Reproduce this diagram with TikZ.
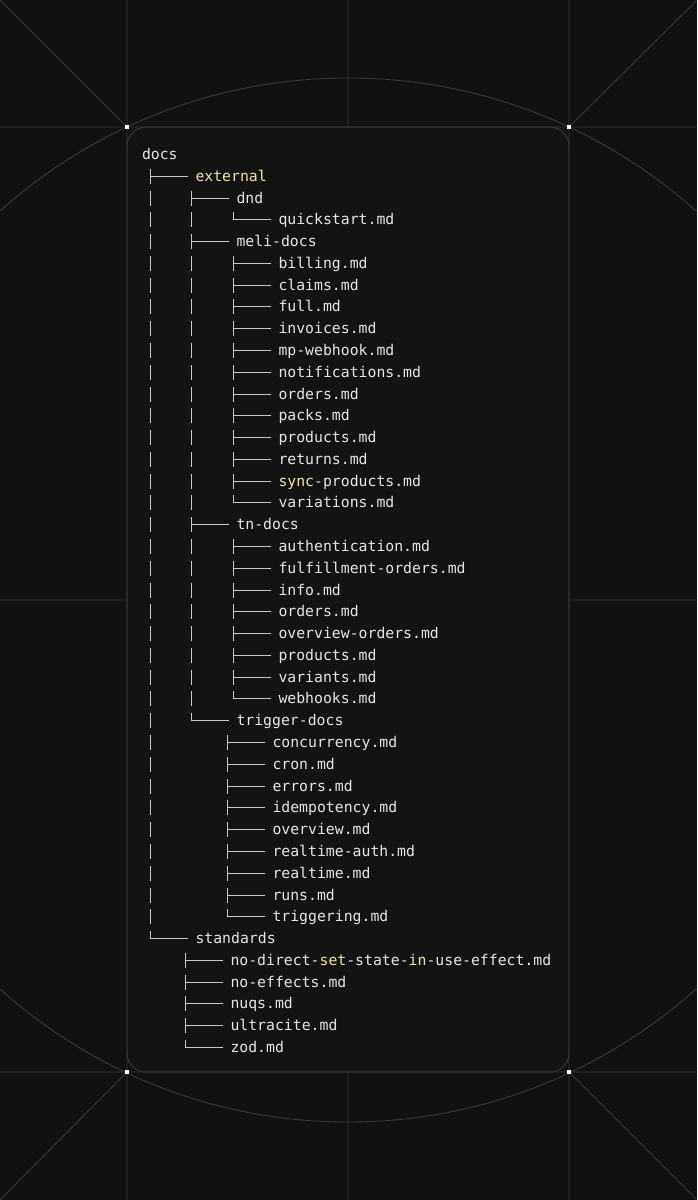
\documentclass[tikz,border=0pt]{standalone}
\usepackage{fontspec}
\newfontfamily\codefont{DejaVu Sans Mono}
\definecolor{bg}{HTML}{111111}
\definecolor{cardc}{HTML}{131313}
\definecolor{gridc}{HTML}{383838}
\definecolor{txtc}{HTML}{E6E6E6}
\definecolor{hl}{HTML}{F0E4A6}
\definecolor{connc}{HTML}{C8C8C8}
\tikzset{
  gridline/.style={draw=gridc, line width=0.9pt},
  conn/.style={draw=connc, line width=1.2pt},
  txt/.style={anchor=base west, inner sep=0pt, outer sep=0pt, text=txtc,
    font=\codefont\fontsize{14.8}{17}\selectfont},
  dotmark/.style={fill=white, draw=none, rectangle, minimum size=4pt, inner sep=0pt}
}
\newcommand\rowy[1]{\pgfmathsetmacro\cy{round(154+(#1-1)*21.78)+0.5}}
\newcommand\vpipe[2]{\rowy{#2}\draw[conn] (#1,\cy-7.5) -- (#1,\cy+7.5);}
\newcommand\entT[4]{\rowy{#1}\draw[conn] (#2,\cy-7.5) -- (#2,\cy+7.5) (#2,\cy) -- ({#2+37},\cy);
  \node[txt] (#3) at ({#2+45},{\cy+5}) {#4};}
\newcommand\entL[4]{\rowy{#1}\draw[conn] (#2,\cy-7.5) -- (#2,\cy) -- ({#2+37},\cy);
  \node[txt] (#3) at ({#2+45},{\cy+5}) {#4};}
\begin{document}
\begin{tikzpicture}[x=1pt,y=-1pt]
\useasboundingbox (0,0) rectangle (697,1200);
\clip (0,0) rectangle (697,1200);
\fill[bg] (0,0) rectangle (697,1200);
% big circle
\draw[gridline] (348,600) circle[radius=522pt];
% card
\draw[gridline, fill=cardc, rounded corners=19pt] (127,127) rectangle (569,1072);
% grid lines
\draw[gridline] (127,0) -- (127,1200) (569,0) -- (569,1200)
  (0,127) -- (697,127) (0,1072) -- (697,1072)
  (348,0) -- (348,127) (348,1072) -- (348,1200)
  (0,600) -- (127,600) (569,600) -- (697,600)
  (0,0) -- (127,127) (697,0) -- (569,127)
  (0,1200) -- (127,1072) (697,1200) -- (569,1072);
% corner dots
\node[dotmark] (c1) at (127,127) {};
\node[dotmark] (c2) at (569,127) {};
\node[dotmark] (c3) at (127,1072) {};
\node[dotmark] (c4) at (569,1072) {};
% pipes
\foreach \r in {3,...,36} {\vpipe{150.5}{\r}}
\foreach \r in {4,6,7,8,9,10,11,12,13,14,15,16,17,19,20,21,22,23,24,25,26} {\vpipe{191.5}{\r}}
% tree
\rowy{1}\node[txt] (docs) at (142,{\cy+5}) {docs};
\entT{2}{150.5}{external}{\color{hl}external}
\entT{3}{191.5}{dnd}{dnd}
\entL{4}{233.5}{quick}{quickstart.md}
\entT{5}{191.5}{meli}{meli-docs}
\entT{6}{233.5}{billing}{billing.md}
\entT{7}{233.5}{claims}{claims.md}
\entT{8}{233.5}{full}{full.md}
\entT{9}{233.5}{invoices}{invoices.md}
\entT{10}{233.5}{mpwh}{mp-webhook.md}
\entT{11}{233.5}{notif}{notifications.md}
\entT{12}{233.5}{mordersx}{orders.md}
\entT{13}{233.5}{packs}{packs.md}
\entT{14}{233.5}{mprod}{products.md}
\entT{15}{233.5}{returns}{returns.md}
\entT{16}{233.5}{sync}{{\color{hl}sync}-products.md}
\entL{17}{233.5}{variations}{variations.md}
\entT{18}{191.5}{tn}{tn-docs}
\entT{19}{233.5}{auth}{authentication.md}
\entT{20}{233.5}{fulfil}{fulfillment-orders.md}
\entT{21}{233.5}{info}{info.md}
\entT{22}{233.5}{tnorders}{orders.md}
\entT{23}{233.5}{ovorders}{overview-orders.md}
\entT{24}{233.5}{tnprod}{products.md}
\entT{25}{233.5}{variants}{variants.md}
\entL{26}{233.5}{webhooks}{webhooks.md}
\entL{27}{191.5}{trigger}{trigger-docs}
\entT{28}{227.5}{concur}{concurrency.md}
\entT{29}{227.5}{cron}{cron.md}
\entT{30}{227.5}{errors}{errors.md}
\entT{31}{227.5}{idem}{idempotency.md}
\entT{32}{227.5}{overview}{overview.md}
\entT{33}{227.5}{rtauth}{realtime-auth.md}
\entT{34}{227.5}{realtime}{realtime.md}
\entT{35}{227.5}{runs}{runs.md}
\entL{36}{227.5}{triggering}{triggering.md}
\entL{37}{150.5}{standards}{standards}
\entT{38}{185.5}{nodirect}{no-direct-{\color{hl}set}-state-{\color{hl}in}-use-effect.md}
\entT{39}{185.5}{noeff}{no-effects.md}
\entT{40}{185.5}{nuqs}{nuqs.md}
\entT{41}{185.5}{ultracite}{ultracite.md}
\entL{42}{185.5}{zod}{zod.md}
\end{tikzpicture}
\end{document}
